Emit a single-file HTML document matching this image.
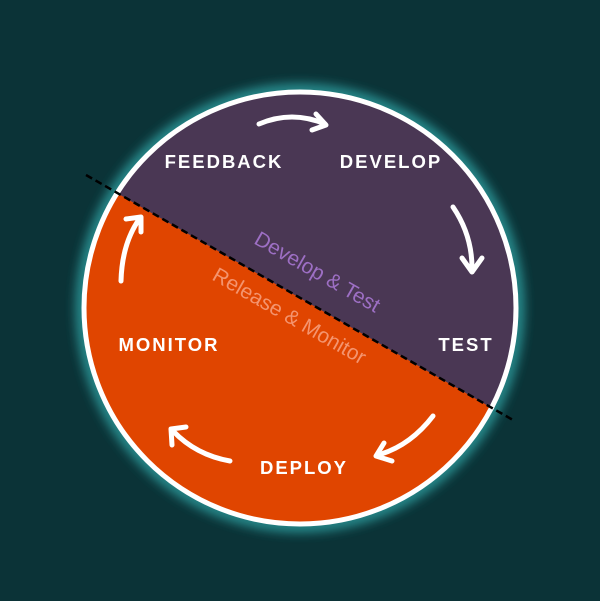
<!DOCTYPE html>
<html><head><style>
html,body{margin:0;padding:0;background:#0b3337;}
svg{display:block}
</style></head><body>
<svg width="600" height="601" viewBox="0 0 600 601" xmlns="http://www.w3.org/2000/svg">
<defs>
<clipPath id="c"><circle cx="300" cy="308" r="214"/></clipPath>
<filter id="g" x="-20%" y="-20%" width="140%" height="140%"><feGaussianBlur stdDeviation="6"/></filter>
</defs>
<rect width="600" height="601" fill="#0b3337"/>
<circle cx="300" cy="308" r="218" fill="none" stroke="#3fd6d6" stroke-width="8" filter="url(#g)" opacity="0.9"/>
<g clip-path="url(#c)">
<rect x="0" y="0" width="600" height="601" fill="#e04500"/>
<polygon points="0,0 600,0 600,470 0,126" fill="#4a3754"/>
</g>
<circle cx="300" cy="308" r="216" fill="none" stroke="#ffffff" stroke-width="5"/>
<line x1="86" y1="175" x2="513" y2="420" stroke="#000" stroke-width="2.5" stroke-dasharray="7,4"/>
<g font-family="Liberation Sans, sans-serif" font-weight="bold" font-size="18.5" fill="#fff" letter-spacing="2" text-anchor="middle">
<text x="224" y="168">FEEDBACK</text>
<text x="391" y="168">DEVELOP</text>
<text x="466" y="351">TEST</text>
<text x="169" y="351">MONITOR</text>
<text x="304" y="474">DEPLOY</text>
</g>
<g font-family="Liberation Sans, sans-serif" font-size="21" text-anchor="middle">
<text x="314" y="278" fill="#9d6fc4" transform="rotate(29.8 314 278)">Develop &amp; Test</text>
<text x="286" y="322" fill="#f4946e" transform="rotate(29.8 286 322)">Release &amp; Monitor</text>
</g>
<g fill="none" stroke="#fff" stroke-width="5" stroke-linecap="round" stroke-linejoin="round">
<path d="M259 124 Q292 110 325 124"/><path d="M316 114 L326 125 L312 130"/>
<path d="M453 207 Q472 235 472 268"/><path d="M462 258 L472 272 L482 258"/>
<path d="M433 416 Q410 446 378 455"/><path d="M384 443 L376 456 L392 461"/>
<path d="M230 461 Q196 455 173 431"/><path d="M172 445 L171 429 L186 427"/>
<path d="M121 281 Q122 243 140 218"/><path d="M126 219 L141 217 L141 232"/>
</g>
</svg>
</body></html>
